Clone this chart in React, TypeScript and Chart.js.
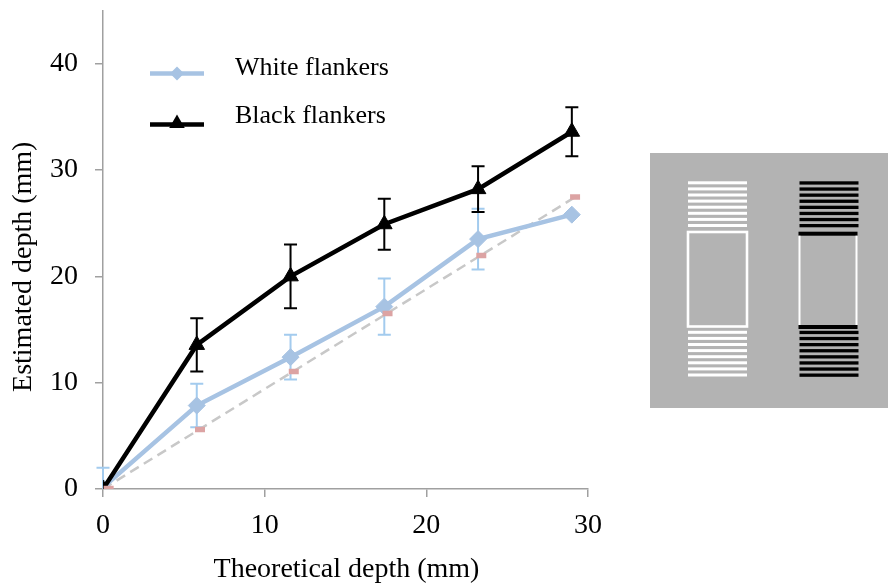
import React, { useEffect, useRef } from "react";
import { Chart, registerables } from "chart.js";

Chart.register(...registerables);

// ---------- data ----------
const theoreticalDepth = [0, 5.8, 11.6, 17.4, 23.2, 29];
const whiteMeans = [0.15, 7.85, 12.4, 17.15, 23.5, 25.8];
const whiteErr = [1.85, 2.05, 2.1, 2.65, 2.85, 0];
const blackMeans = [0, 13.55, 20.0, 24.9, 28.2, 33.6];
const blackErr = [0, 2.5, 3.0, 2.4, 2.15, 2.3];
const predictedX = [0.35, 6.0, 11.8, 17.6, 23.4, 29.2];
const predictedY = [0.05, 5.6, 11.05, 16.5, 21.95, 27.45];
const trendX = [0, 29.2];
const trendY = [0, 27.45];
const xTicks = [0, 10, 20, 30];
const yTicks = [0, 10, 20, 30, 40];
const legendLabels = ["White flankers", "Black flankers"];
const xTitle = "Theoretical depth (mm)";
const yTitle = "Estimated depth (mm)";

// ---------- styles ----------
const SERIF = '"Liberation Serif", "Times New Roman", serif';
const WHITE_COL = "#a7c3e3";
const WHITE_ERR_COL = "#a3cbee";
const BLACK_COL = "#000000";
const PINK_COL = "#dca3a3";
const TREND_COL = "#c8c8c8";
const AXIS_COL = "#a0a0a0";

function diamond(ctx: CanvasRenderingContext2D, x: number, y: number, r: number) {
  ctx.beginPath();
  ctx.moveTo(x - r, y);
  ctx.lineTo(x, y - r);
  ctx.lineTo(x + r, y);
  ctx.lineTo(x, y + r);
  ctx.closePath();
}
function triangle(ctx: CanvasRenderingContext2D, x: number, y: number, r: number) {
  ctx.beginPath();
  ctx.moveTo(x, y - r);
  ctx.lineTo(x + 0.866 * r, y + 0.5 * r);
  ctx.lineTo(x - 0.866 * r, y + 0.5 * r);
  ctx.closePath();
}

const errorBarPlugin = {
  id: "errorBars",
  beforeDatasetsDraw(chart: any) {
    const { ctx } = chart;
    const xs = chart.scales.x;
    const ys = chart.scales.y;
    const draw = (means: number[], errs: number[], color: string) => {
      ctx.save();
      ctx.strokeStyle = color;
      ctx.lineWidth = 2;
      theoreticalDepth.forEach((xv, i) => {
        const e = errs[i];
        if (!e) return;
        const px = xs.getPixelForValue(xv);
        const top = ys.getPixelForValue(means[i] + e);
        const bot = ys.getPixelForValue(Math.max(0, means[i] - e));
        ctx.beginPath();
        ctx.moveTo(px, top);
        ctx.lineTo(px, bot);
        ctx.moveTo(px - 6.5, top);
        ctx.lineTo(px + 6.5, top);
        if (means[i] - e >= 0) {
          ctx.moveTo(px - 6.5, bot);
          ctx.lineTo(px + 6.5, bot);
        }
        ctx.stroke();
      });
      ctx.restore();
    };
    draw(whiteMeans, whiteErr, WHITE_ERR_COL);
    draw(blackMeans, blackErr, BLACK_COL);
  },
};

const decorPlugin = {
  id: "decor",
  afterDraw(chart: any) {
    const { ctx, chartArea } = chart;
    const L = chartArea.left;
    const T = chartArea.top;
    ctx.save();
    // legend
    ctx.lineWidth = 4.5;
    ctx.strokeStyle = WHITE_COL;
    ctx.beginPath();
    ctx.moveTo(L + 47, T + 63);
    ctx.lineTo(L + 101, T + 63);
    ctx.stroke();
    ctx.fillStyle = WHITE_COL;
    diamond(ctx, L + 74, T + 63, 7);
    ctx.fill();
    ctx.strokeStyle = BLACK_COL;
    ctx.beginPath();
    ctx.moveTo(L + 47, T + 114);
    ctx.lineTo(L + 101, T + 114);
    ctx.stroke();
    ctx.fillStyle = BLACK_COL;
    triangle(ctx, L + 74, T + 113, 9);
    ctx.fill();
    ctx.font = `26px ${SERIF}`;
    ctx.textAlign = "left";
    ctx.textBaseline = "alphabetic";
    ctx.fillStyle = "#000";
    ctx.fillText(legendLabels[0], L + 132, T + 64.3);
    ctx.fillText(legendLabels[1], L + 132, T + 112.5);

    // axis titles
    ctx.font = `28px ${SERIF}`;
    ctx.textAlign = "center";
    ctx.fillText(xTitle, (chartArea.left + chartArea.right) / 2 + 1, 576.5);
    ctx.save();
    ctx.translate(30.5, (chartArea.top + chartArea.bottom) / 2 + 17);
    ctx.rotate(-Math.PI / 2);
    ctx.fillText(yTitle, 0, 0);
    ctx.restore();

    // stimulus illustration
    ctx.fillStyle = "#b3b3b3";
    ctx.fillRect(650, 153, 238, 255);
    const stripes = (x: number, w: number, y0: number, col: string, h: number) => {
      ctx.fillStyle = col;
      for (let i = 0; i < 8; i++) ctx.fillRect(x, y0 + i * 6.1, w, h);
    };
    // white flankers
    stripes(688, 59, 181.3, "#ffffff", 3);
    stripes(688, 59, 330.8, "#ffffff", 3);
    ctx.strokeStyle = "#ffffff";
    ctx.lineWidth = 2.6;
    ctx.strokeRect(688, 232, 59, 94.5);
    // black flankers
    stripes(799.5, 59, 181.3, "#000000", 3.3);
    stripes(799.5, 59, 330.8, "#000000", 3.3);
    ctx.fillStyle = "#000000";
    ctx.fillRect(798.5, 231.7, 59, 4);
    ctx.fillRect(798.5, 325, 59, 4);
    ctx.fillStyle = "#ffffff";
    ctx.fillRect(798.5, 235.7, 2, 89.3);
    ctx.fillRect(855.5, 235.7, 2, 89.3);
    ctx.restore();
  },
};

export default function App() {
  const ref = useRef<HTMLCanvasElement | null>(null);
  useEffect(() => {
    if (!ref.current) return;
    const chart = new Chart(ref.current, {
      type: "line",
      data: {
        datasets: [
          {
            label: legendLabels[1],
            data: theoreticalDepth.map((x, i) => ({ x, y: blackMeans[i] })),
            borderColor: BLACK_COL,
            backgroundColor: BLACK_COL,
            borderWidth: 4.5,
            pointStyle: "triangle",
            pointRadius: 9,
            pointBorderWidth: 1,
            order: 1,
          },
          {
            label: legendLabels[0],
            data: theoreticalDepth.map((x, i) => ({ x, y: whiteMeans[i] })),
            borderColor: WHITE_COL,
            backgroundColor: WHITE_COL,
            borderWidth: 4.5,
            pointStyle: "rectRot",
            pointRadius: 8.5,
            pointBorderWidth: 1,
            order: 2,
          },
          {
            label: "predicted",
            data: predictedX.map((x, i) => ({ x, y: predictedY[i] })),
            showLine: false,
            pointStyle: "line",
            pointRadius: 5,
            pointBorderWidth: 5.5,
            borderColor: PINK_COL,
            backgroundColor: PINK_COL,
            order: 0,
          },
          {
            label: "trend",
            data: trendX.map((x, i) => ({ x, y: trendY[i] })),
            borderColor: TREND_COL,
            borderWidth: 2.5,
            borderDash: [10, 6],
            pointRadius: 0,
            order: 5,
          },
        ],
      },
      options: {
        animation: false,
        responsive: false,
        devicePixelRatio: 1,
        layout: { padding: { top: 7.5, right: 300, left: 0, bottom: 0 } },
        plugins: {
          legend: { display: false },
          tooltip: { enabled: false },
        },
        scales: {
          x: {
            type: "linear",
            min: 0,
            max: 30,
            afterBuildTicks: (axis: any) => {
              axis.ticks = xTicks.map((v) => ({ value: v }));
            },
            afterFit: (scale: any) => {
              scale.height = 95;
              scale.paddingLeft = 0;
              scale.paddingRight = 0;
            },
            grid: {
              drawOnChartArea: false,
              drawTicks: true,
              tickLength: 8,
              color: AXIS_COL,
              lineWidth: 1.5,
            },
            border: { display: true, color: AXIS_COL, width: 1.5 },
            ticks: {
              color: "#000",
              font: { family: SERIF, size: 28 },
              padding: 12,
              maxRotation: 0,
            },
          },
          y: {
            type: "linear",
            min: 0,
            max: 45,
            afterBuildTicks: (axis: any) => {
              axis.ticks = yTicks.map((v) => ({ value: v }));
            },
            afterFit: (scale: any) => {
              scale.width = 103;
              scale.paddingTop = 0;
              scale.paddingBottom = 0;
            },
            grid: {
              drawOnChartArea: false,
              drawTicks: true,
              tickLength: 8,
              color: AXIS_COL,
              lineWidth: 1.5,
            },
            border: { display: true, color: AXIS_COL, width: 1.5 },
            ticks: {
              color: "#000",
              font: { family: SERIF, size: 28 },
              padding: 17,
            },
          },
        },
      },
      plugins: [errorBarPlugin, decorPlugin],
    } as any);
    return () => chart.destroy();
  }, []);
  return (
    <div style={{ position: "absolute", left: 0, top: 0, width: 888, height: 584, background: "#fff" }}>
      <canvas ref={ref} width={888} height={584} style={{ display: "block" }} />
    </div>
  );
}
